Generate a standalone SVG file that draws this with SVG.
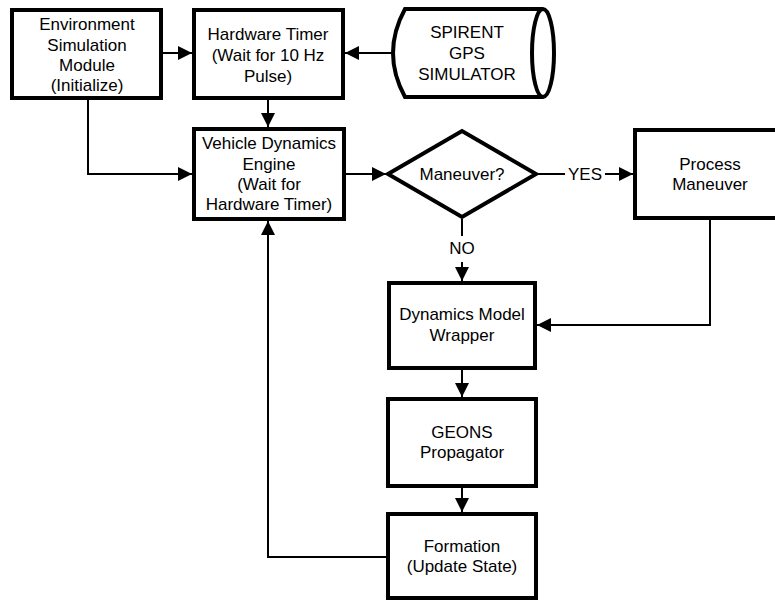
<svg xmlns="http://www.w3.org/2000/svg" width="775" height="602" viewBox="0 0 775 602">
<style>
.box{fill:#fff;stroke:#000;stroke-width:4}
.t{font-family:"Liberation Sans",Arial,sans-serif;font-size:17px;fill:#000;text-anchor:middle}
.c{fill:none;stroke:#000;stroke-width:2}
</style>
<defs>
<marker id="ah" markerUnits="userSpaceOnUse" markerWidth="14" markerHeight="14" viewBox="0 0 14 14" refX="14" refY="7" orient="auto">
<path d="M0,0 L14,7 L0,14 Z" fill="#000"/>
</marker>
</defs>
<rect width="775" height="602" fill="#fff"/>
<g id="connectors">
<line class="c" x1="163" y1="53" x2="192" y2="53" marker-end="url(#ah)"/>
<line class="c" x1="393" y1="53" x2="345" y2="53" marker-end="url(#ah)"/>
<line class="c" x1="268" y1="100" x2="268" y2="127" marker-end="url(#ah)"/>
<path class="c" d="M88,100 V174 H192" marker-end="url(#ah)"/>
<line class="c" x1="346" y1="174" x2="386" y2="174" marker-end="url(#ah)"/>
<line class="c" x1="537" y1="174" x2="565" y2="174"/>
<line class="c" x1="605" y1="174" x2="633" y2="174" marker-end="url(#ah)"/>
<line class="c" x1="462" y1="219" x2="462" y2="236"/>
<line class="c" x1="462" y1="262" x2="462" y2="281" marker-end="url(#ah)"/>
<path class="c" d="M710,220 V325 H537" marker-end="url(#ah)"/>
<line class="c" x1="462" y1="370" x2="462" y2="397" marker-end="url(#ah)"/>
<line class="c" x1="462" y1="488" x2="462" y2="512" marker-end="url(#ah)"/>
<path class="c" d="M386,557 H268 V221" marker-end="url(#ah)"/>
<text class="t" x="585" y="180">YES</text>
<text class="t" x="462" y="254">NO</text>
</g>
<g id="env">
<rect class="box" x="12" y="10" width="149" height="88"/>
<text class="t" x="87" y="30">Environment</text>
<text class="t" x="87" y="50.5">Simulation</text>
<text class="t" x="87" y="71">Module</text>
<text class="t" x="87" y="91">(Initialize)</text>
</g>
<g id="hwtimer">
<rect class="box" x="194" y="10" width="149" height="88"/>
<text class="t" x="268" y="40">Hardware Timer</text>
<text class="t" x="268" y="61">(Wait for 10 Hz</text>
<text class="t" x="268" y="82">Pulse)</text>
</g>
<g id="spirent">
<path class="box" d="M405,9 H543 A11,44 0 0 1 543,97 H405 Q381,53 405,9 Z"/>
<path class="box" d="M543,9 A11,44 0 0 0 543,97" fill="none"/>
<text class="t" x="467" y="38">SPIRENT</text>
<text class="t" x="467" y="59">GPS</text>
<text class="t" x="467" y="80">SIMULATOR</text>
</g>
<g id="vehicle">
<rect class="box" x="194" y="129" width="150" height="90"/>
<text class="t" x="269" y="149">Vehicle Dynamics</text>
<text class="t" x="269" y="170">Engine</text>
<text class="t" x="269" y="190">(Wait for</text>
<text class="t" x="269" y="210">Hardware Timer)</text>
</g>
<g id="maneuver">
<polygon class="box" stroke-width="5" points="388,174 462,131 536,174 462,217"/>
<text class="t" x="462" y="180">Maneuver?</text>
</g>
<g id="process">
<rect class="box" x="635" y="130" width="152" height="88"/>
<text class="t" x="710" y="170">Process</text>
<text class="t" x="710" y="190">Maneuver</text>
</g>
<g id="wrapper">
<rect class="box" x="389" y="283" width="146" height="85"/>
<text class="t" x="462" y="320">Dynamics Model</text>
<text class="t" x="462" y="341">Wrapper</text>
</g>
<g id="geons">
<rect class="box" x="388" y="399" width="148" height="87"/>
<text class="t" x="462" y="438">GEONS</text>
<text class="t" x="462" y="458">Propagator</text>
</g>
<g id="formation">
<rect class="box" x="388" y="514" width="148" height="84"/>
<text class="t" x="462" y="552">Formation</text>
<text class="t" x="462" y="572">(Update State)</text>
</g>
</svg>
